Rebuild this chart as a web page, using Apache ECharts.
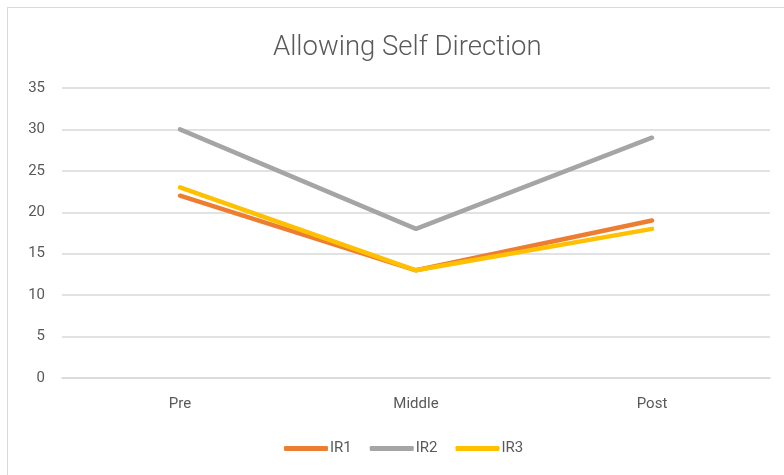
<!DOCTYPE html>
<html><head><meta charset="utf-8">
<script src="https://cdn.jsdelivr.net/npm/echarts@6/dist/echarts.min.js"></script>
<style>
html,body{margin:0;padding:0;background:#fff;overflow:hidden;}
#frame{position:absolute;left:7px;top:7px;width:800px;height:500px;border:1.5px solid #d9d9d9;box-sizing:border-box;}
#c{position:absolute;left:0;top:0;width:784px;height:475px;}
</style></head>
<body>
<div id="frame"></div>
<div id="c"></div>
<script>
const categories = ['Pre', 'Middle', 'Post'];
const ir1 = [22, 13, 19];
const ir2 = [30, 18, 29];
const ir3 = [23, 13, 18];
const seriesNames = ['IR1', 'IR2', 'IR3'];
const colors = ['#ED7D31', '#A5A5A5', '#FFC000'];
const yMin = 0, yMax = 35, yStep = 5;

const chart = echarts.init(document.getElementById('c'));
const data = [ir1, ir2, ir3];
chart.setOption({
  animation: false,
  title: {
    text: 'Allowing Self Direction',
    left: 268, top: 29,
    textStyle: {fontFamily: 'Roboto', fontWeight: 300, fontSize: 27.5, color: '#595959'}
  },
  legend: {
    bottom: 14, left: 279,
    itemWidth: 44, itemHeight: 5, itemGap: 18,
    icon: 'roundRect',
    textStyle: {fontFamily: 'Roboto', fontSize: 15, color: '#595959', padding: [0,0,0,-3]},
    data: seriesNames
  },
  grid: {left: 62, right: 14, top: 88, bottom: 97},
  xAxis: {
    type: 'category', data: categories, boundaryGap: true,
    axisLine: {show: true, lineStyle: {color: '#d9d9d9', width: 1.5}},
    axisTick: {show: false},
    axisLabel: {fontFamily: 'Roboto', fontSize: 15, color: '#595959', margin: 19}
  },
  yAxis: {
    type: 'value', min: yMin, max: yMax, interval: yStep,
    axisLine: {show: false}, axisTick: {show: false},
    splitLine: {lineStyle: {color: '#d9d9d9', width: 1.5}},
    axisLabel: {fontFamily: 'Roboto', fontSize: 15, color: '#595959', margin: 17}
  },
  series: data.map((d, i) => ({
    name: seriesNames[i], type: 'line', data: d,
    symbol: 'none', color: colors[i],
    lineStyle: {width: 4.5, color: colors[i], cap: 'round', join: 'round'}
  }))
});
</script>
</body></html>
